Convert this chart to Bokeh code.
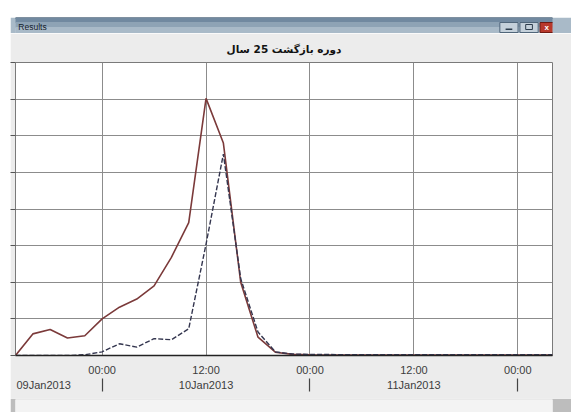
from datetime import datetime, timedelta
from bokeh.plotting import figure
from bokeh.layouts import column, row
from bokeh.models import (Range1d, DatetimeAxis, DatetimeTickFormatter, FixedTicker,
                          SingleIntervalTicker, Spacer)
from bokeh.core.properties import value
from bokeh.embed import file_html
from bokeh.resources import INLINE

# ---------------- data ----------------
start_time = datetime(2013, 1, 9, 14, 0)
step_hours = 2
solid_flow = [0.0, 5.9, 7.1, 4.8, 5.4, 10.0, 13.2, 15.4, 19.0, 26.8, 36.3, 70.2,
              58.0, 20.0, 5.0, 0.9, 0.3, 0.2, 0.15, 0.1, 0.1, 0.1, 0.1, 0.1,
              0.1, 0.1, 0.1, 0.1, 0.1, 0.1, 0.1, 0.1]
dashed_flow = [0.0, 0.0, 0.0, 0.0, 0.2, 1.0, 3.2, 2.3, 4.6, 4.3, 7.3, 30.4,
               55.0, 21.0, 6.4, 1.0, 0.4, 0.3, 0.3, 0.2, 0.2, 0.2, 0.2, 0.2,
               0.2, 0.2, 0.2, 0.2, 0.2, 0.2, 0.2, 0.2]
times = [start_time + timedelta(hours=step_hours * i) for i in range(len(solid_flow))]
end_time = times[-1]
title_text = "دوره بازگشت 25 سال"
window_text = "Results"

def ms(d):
    return (d - datetime(1970, 1, 1)).total_seconds() * 1000.0

# day-label positions (first one sits at the left edge) and day separators
day_label_times = [ms(datetime(2013, 1, 9, 17, 15)), ms(datetime(2013, 1, 10, 12)),
                   ms(datetime(2013, 1, 11, 12))]
midnights = [ms(datetime(2013, 1, 10)), ms(datetime(2013, 1, 11)), ms(datetime(2013, 1, 12))]
y_ticks = [0, 10, 20, 30, 40, 50, 60, 70, 80]

# ---------------- window chrome (decoration) ----------------
BAR_W, BAR_H = 561, 16
bar = figure(width=BAR_W, height=BAR_H, output_backend="svg", toolbar_location=None,
             x_axis_type=None, y_axis_type=None,
             x_range=Range1d(0, BAR_W), y_range=Range1d(BAR_H, 0), min_border=0)
bar.outline_line_color = None
bar.border_fill_color = "#a9bac8"
bar.background_fill_color = "#a9bac8"
bar.grid.visible = False
band_tops = [0, 1, 5, 10]
band_bottoms = [1, 5, 10, 16]
band_colors = ["#4c6378", "#7189a0", "#8ea3b5", "#a9bac8"]
bar.quad(left=0, right=BAR_W, top=band_tops, bottom=band_bottoms, color=band_colors)
bar.quad(left=[506, 527], right=[525, 546], top=5, bottom=15,
         fill_color="#c4d0da", line_color="#50667a")
bar.quad(left=548, right=570, top=5, bottom=15, fill_color="#b8392c", line_color="#6f1a12")
bar.quad(left=512, right=519, top=11, bottom=12.5, fill_color="#2c3c4c", line_color=None)
bar.quad(left=533, right=540, top=7, bottom=12, fill_color=None, line_color="#2c3c4c")
bar.text(x=[3], y=[9], text=[window_text], text_font=value("Liberation Sans"),
         text_font_size="8.5px", text_color="#14202c", text_baseline="middle")
bar.text(x=[555], y=[10], text=["x"], text_font=value("Liberation Sans"),
         text_font_size="8px", text_font_style="bold", text_color="white",
         text_align="center", text_baseline="middle")

# ---------------- main chart ----------------
W, H = 561, 365
p = figure(width=W, height=H, output_backend="svg", toolbar_location=None,
           x_axis_type="datetime", x_range=Range1d(start_time, end_time),
           y_range=Range1d(0, 80),
           min_border_left=5, min_border_right=19, min_border_top=28, min_border_bottom=43)
p.border_fill_color = "#ececec"
p.background_fill_color = "white"
p.outline_line_color = "#7a7a7a"
p.outline_line_width = 1

p.title.text = title_text
p.title.align = "center"
p.title.text_font = "DejaVu Sans"
p.title.text_font_size = "10.5px"
p.title.text_font_style = "bold"
p.title.text_color = "#111111"
p.title.standoff = 15

half_day = SingleIntervalTicker(interval=12 * 3600 * 1000)
fmt_keys = ["microseconds", "milliseconds", "seconds", "minsec", "minutes",
            "hourmin", "hours", "days", "months", "years"]
xa = p.xaxis[0]
xa.ticker = half_day
xa.formatter = DatetimeTickFormatter(**{k: "%H:%M" for k in fmt_keys}, strip_leading_zeros=False)
xa.axis_line_color = "#222222"
xa.axis_line_width = 1.5
xa.major_tick_out = 0
xa.major_tick_in = 0
xa.minor_tick_out = 0
xa.minor_tick_in = 0
xa.major_label_standoff = 8
xa.major_label_text_font = "Liberation Sans"
xa.major_label_text_font_size = "11px"
xa.major_label_text_color = "#3c3c3c"

ax2 = DatetimeAxis(ticker=FixedTicker(ticks=day_label_times, minor_ticks=midnights),
                   formatter=DatetimeTickFormatter(**{k: "%d%b%Y" for k in fmt_keys},
                                                   strip_leading_zeros=False))
ax2.axis_line_alpha = 0
ax2.major_tick_out = 0
ax2.major_tick_in = 0
ax2.minor_tick_out = 13
ax2.minor_tick_in = 0
ax2.minor_tick_line_color = "#444444"
ax2.minor_tick_line_width = 1.2
ax2.major_label_standoff = -13
ax2.major_label_text_font = "Liberation Sans"
ax2.major_label_text_font_size = "11px"
ax2.major_label_text_color = "#3c3c3c"
p.add_layout(ax2, "below")

ya = p.yaxis[0]
ya.ticker = FixedTicker(ticks=[], minor_ticks=y_ticks)
ya.axis_line_alpha = 0
ya.major_tick_out = 0
ya.major_tick_in = 0
ya.minor_tick_out = 5
ya.minor_tick_in = 0
ya.minor_tick_line_color = "#555555"
ya.major_label_standoff = 0

p.xgrid.ticker = half_day
p.ygrid.ticker = FixedTicker(ticks=y_ticks)
for g in (p.xgrid[0], p.ygrid[0]):
    g.grid_line_color = "#8c8c8c"
    g.grid_line_width = 1

p.line(times, solid_flow, line_color="#7b3a3a", line_width=1.6)
p.line(times, dashed_flow, line_color="#34364f", line_width=1.4, line_dash="5 2")

# ---------------- bottom strip ----------------
bot = figure(width=561, height=14, output_backend="svg", toolbar_location=None,
             x_axis_type=None, y_axis_type=None, min_border_left=0, min_border_right=0,
             min_border_bottom=0, min_border_top=1)
bot.border_fill_color = "#bdbdbd"
bot.background_fill_color = "#f3f3f3"
bot.outline_line_color = None
bot.grid.visible = False

layout = row(Spacer(width=10, height=412),
             column(Spacer(width=561, height=17), bar, p, bot))

open("out.html", "w").write(file_html(layout, INLINE))
